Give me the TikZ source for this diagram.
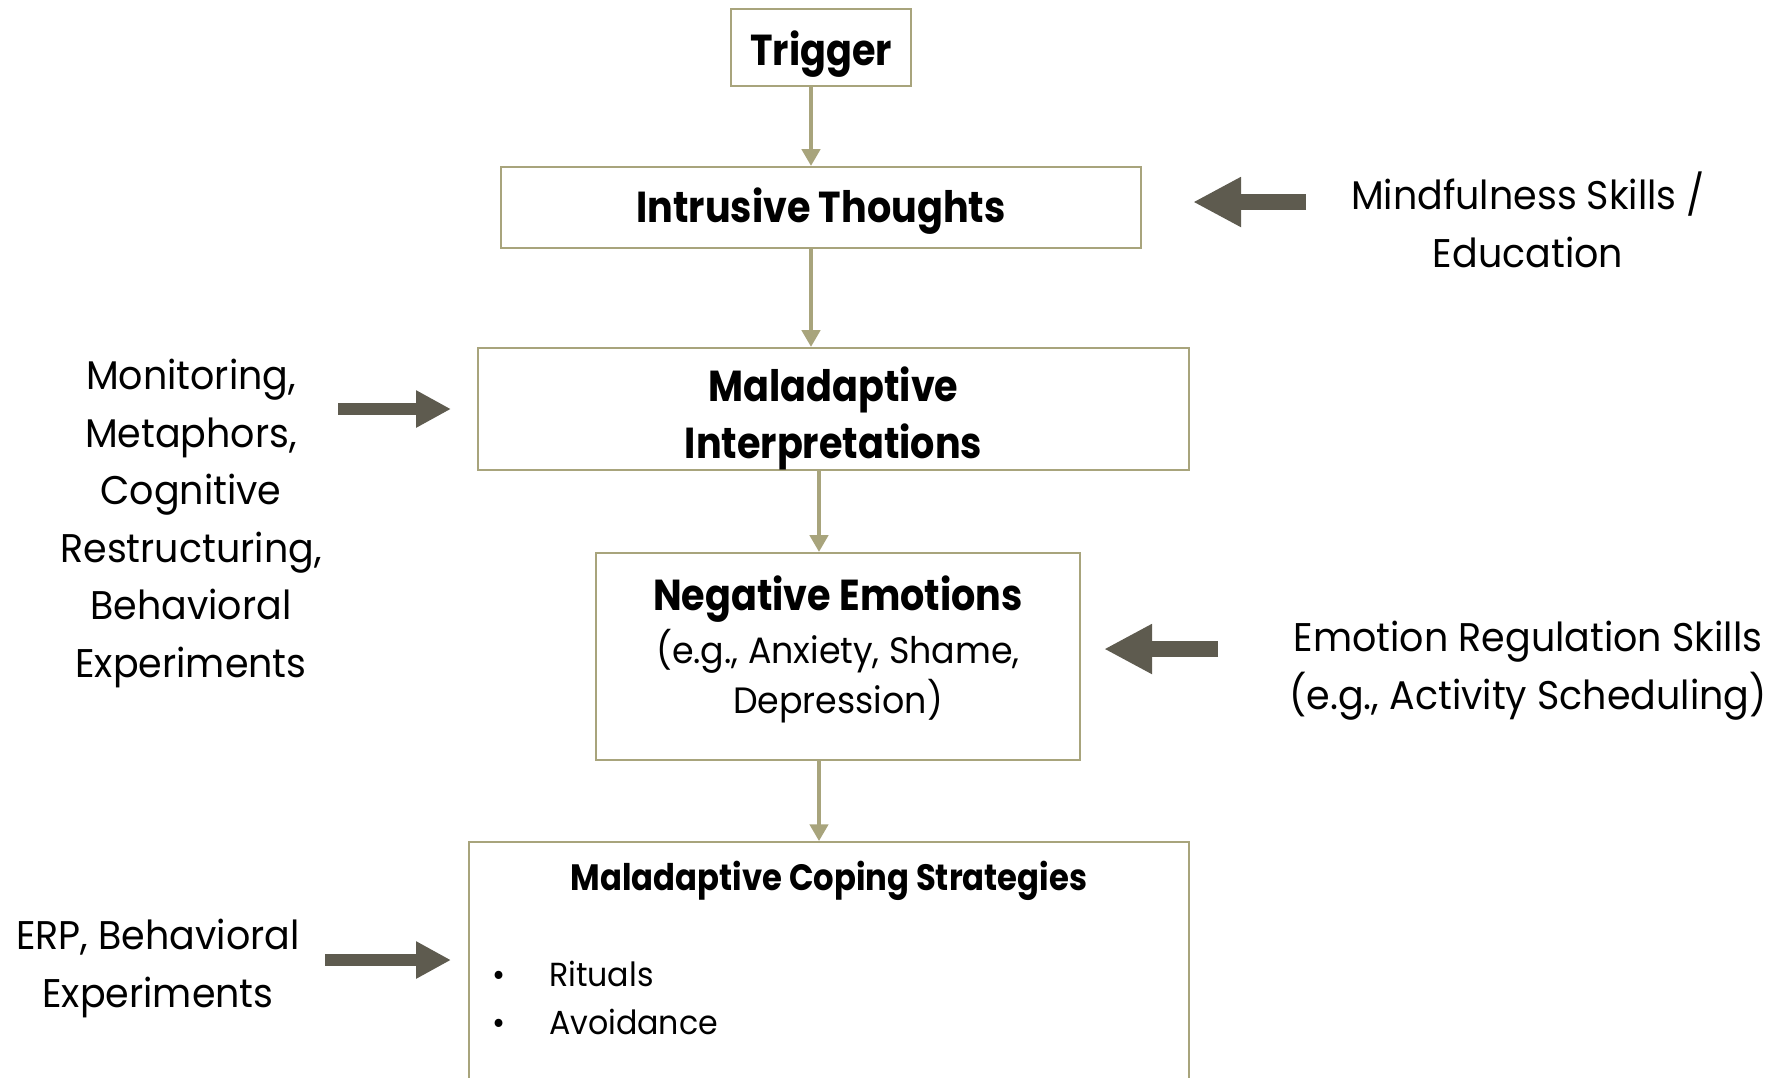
\documentclass[tikz,border=0pt]{standalone}
\usepackage{fontspec}
\setmainfont{Poppins}[FakeStretch=0.95, BoldFeatures={FakeStretch=0.88}]
\usetikzlibrary{arrows.meta}
\definecolor{boxline}{RGB}{168,164,124}
\definecolor{bigarr}{RGB}{94,91,79}
\tikzset{
  stepbox/.style={draw=boxline, line width=0.7pt, fill=white, align=center, inner sep=0pt},
  flow/.style={draw=boxline, line width=1pt, -{Triangle[length=5pt,width=5.5pt]}},
  hint/.style={align=center, font=\fontsize{12}{17.25}\selectfont},
  bigright/.style={draw=bigarr, line width=3.6pt, -{Triangle[length=10.5pt,width=10.5pt]}},
  bigleft/.style={draw=bigarr, line width=5pt, -{Triangle[length=14.4pt,width=14pt]}}
}
\begin{document}
\begin{tikzpicture}[x=0.3pt,y=-0.3pt]
\useasboundingbox (0,0) rectangle (1781,1077);
\node [stepbox, minimum width=54pt, minimum height=23.1pt, text height=10.5pt, text depth=0pt, font=\bfseries\fontsize{13}{16}\selectfont] (trig) at (821,47.5) {Trigger};
\node [stepbox, minimum width=192pt, minimum height=24.3pt, text height=8.7pt, text depth=0pt, font=\bfseries\fontsize{13}{16}\selectfont] (intr) at (821,207.5) {Intrusive Thoughts};
\node [stepbox, minimum width=213.3pt, minimum height=36.6pt, font=\bfseries\fontsize{13}{17.1}\selectfont] (interp) at (833.5,409) {\rule{0pt}{16pt}Maladaptive\\Interpretations};
\node [stepbox, minimum width=145.2pt, minimum height=62.1pt, font=\fontsize{11}{15}\selectfont] (emo) at (838,656.5)
  {{\bfseries\fontsize{13}{16}\selectfont Negative Emotions}\\[1pt](e.g., Anxiety, Shame,\\Depression)\rule[-7.3pt]{0pt}{1pt}};
\node [stepbox, anchor=north, minimum width=216pt] (cope) at (829,841)
  {\begin{minipage}[t][80pt][t]{216pt}
   \centering{\bfseries\fontsize{11}{13}\selectfont\rule{0pt}{14.4pt}Maladaptive Coping Strategies\par}
   \vskip 14.4pt
   \raggedright\fontsize{10}{14.4}\selectfont
   \makebox[24pt][l]{\hspace{6.9pt}\textbullet}Rituals\par
   \makebox[24pt][l]{\hspace{6.9pt}\textbullet}Avoidance\par
   \end{minipage}};

\node [hint] (mind) at (1528,220) {Mindfulness Skills /\\Education};
\node [hint] (mon) at (191,523.5) {Monitoring,\\Metaphors,\\Cognitive\\Restructuring,\\Behavioral\\Experiments};
\node [hint] (emoreg) at (1528,670.5) {Emotion Regulation Skills\\(e.g., Activity Scheduling)};
\node [hint] (erp) at (158,968.5) {ERP, Behavioral\\Experiments};

\draw [flow] ([xshift=-3pt]trig.south) -- ([xshift=-3pt]trig.south |- intr.north);
\draw [flow] ([xshift=-3pt]intr.south) -- ([xshift=-3pt]intr.south |- interp.north);
\draw [flow] ([xshift=-4.35pt]interp.south) -- ([xshift=-4.35pt]interp.south |- emo.north);
\draw [flow] ([xshift=-5.7pt]emo.south) -- ([xshift=-5.7pt]emo.south |- cope.north);

\coordinate (mindtail) at (1306,202);
\coordinate (mindtip) at (1193,202);
\coordinate (regtail) at (1218,649);
\coordinate (regtip) at (1104,649);
\coordinate (montail) at (338,409);
\coordinate (montip) at (451,409);
\coordinate (erptail) at (325,960);
\coordinate (erptip) at (451,960);
\draw [bigleft] (mindtail) -- (mindtip);
\draw [bigleft] (regtail) -- (regtip);
\draw [bigright] (montail) -- (montip);
\draw [bigright] (erptail) -- (erptip);
\end{tikzpicture}
\end{document}
